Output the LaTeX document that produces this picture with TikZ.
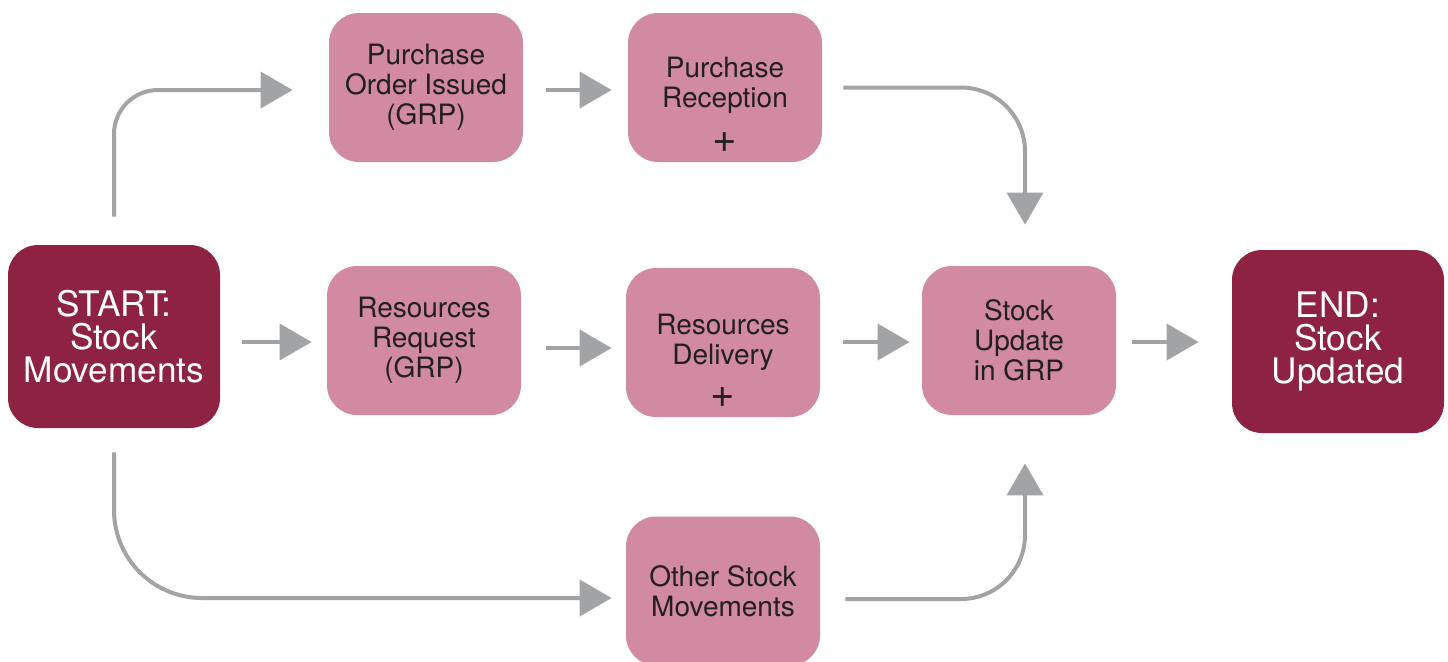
\documentclass[tikz,border=0pt]{standalone}
\usepackage{fontspec}
\setmainfont{TeX Gyre Heros}
\usetikzlibrary{arrows.meta}
\definecolor{maroonfill}{HTML}{8E2243}
\definecolor{pinkfill}{HTML}{D18AA1}
\definecolor{flowgray}{HTML}{A2A3A5}
\definecolor{textdark}{HTML}{231F20}
\tikzset{
  pinkbox/.style={fill=pinkfill, rounded corners=15pt, minimum width=97pt,
    minimum height=74.5pt, align=center, text=textdark, inner sep=0pt,
    font=\fontsize{14}{15}\selectfont},
  darkbox/.style={fill=maroonfill, rounded corners=15pt, minimum width=106pt,
    minimum height=91.5pt, align=center, text=white, inner sep=0pt,
    font=\fontsize{17.6}{16.5}\selectfont},
  plusmark/.style={label={[anchor=center, yshift=10pt, text=textdark,
    font=\fontsize{21}{21}\selectfont]south:+}},
  flow/.style={draw=flowgray, line width=2pt,
    -{Triangle[length=16pt, width=18pt]}},
}
\begin{document}
\begin{tikzpicture}[x=0.5pt, y=-0.5pt]
\useasboundingbox (0,0) rectangle (1448,661);

% process boxes
\node[darkbox] (start) at (114,336.5) {START:\\Stock\\Movements};
\node[pinkbox] (poi) at (426,87.5) {Purchase\\Order Issued\\(GRP)};
\node[pinkbox, plusmark] (pr) at (725,87.5) {Purchase\\Reception\\[-10pt]\mbox{}};
\node[pinkbox] (rr) at (424,340.5) {Resources\\Request\\(GRP)};
\node[pinkbox, plusmark] (rd) at (723,342.5) {Resources\\Delivery\\[-12pt]\mbox{}};
\node[pinkbox] (su) at (1019,340.5) {Stock\\Update\\in GRP};
\node[darkbox] (en) at (1338,341.5) {END:\\Stock\\Updated};
\node[pinkbox] (osm) at (723,591) {Other Stock\\Movements};

% straight connectors
\draw[flow, shorten <=11pt, shorten >=7.5pt] (start.east |- 0,342) -- (rr.west |- 0,342);
\draw[flow, shorten <=11.5pt, shorten >=8pt] (poi.east |- 0,90) -- (pr.west |- 0,90);
\draw[flow, shorten <=12.5pt, shorten >=7pt] (rr.east |- 0,348) -- (rd.west |- 0,348);
\draw[flow, shorten <=11.5pt, shorten >=6pt] (rd.east |- 0,342) -- (su.west |- 0,342);
\draw[flow, shorten <=8pt, shorten >=16.5pt] (su.east |- 0,342) -- (en.west |- 0,342);

% curved connectors
\draw[flow, rounded corners=22pt, shorten <=14pt, shorten >=18pt]
  (start.north) -- (start.north |- 0,90) -- (poi.west |- 0,90);
\draw[flow, rounded corners=44pt, shorten <=12pt, shorten >=7pt]
  (start.south) -- (start.south |- 0,598) -- (osm.west |- 0,598);
\draw[flow, rounded corners=32pt, shorten <=10.5pt, shorten >=20.5pt]
  (pr.east) -- ([xshift=3pt]su.north |- pr.east) -- ([xshift=3pt]su.north);
\draw[flow, rounded corners=32pt, shorten <=12.5pt, shorten >=24pt]
  (osm.east |- 0,599) -- ([xshift=3pt]su.south |- 0,599) -- ([xshift=3pt]su.south);
\end{tikzpicture}
\end{document}
